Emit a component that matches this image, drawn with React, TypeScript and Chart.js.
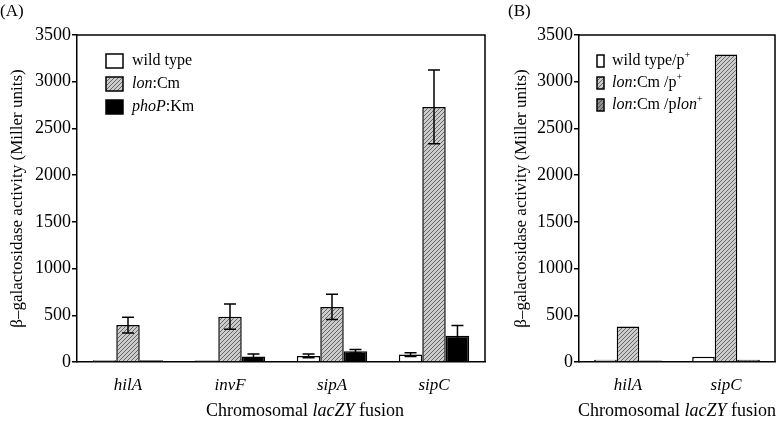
import React, { useEffect, useRef } from "react";
import { Chart, registerables } from "chart.js";

Chart.register(...registerables);

const FONT = "'Liberation Serif', 'Times New Roman', serif";

// Panel A data
const categoriesA = ["hilA", "invF", "sipA", "sipC"];
const wildTypeA = [20, 15, 65, 80];
const wildTypeErrA = [0, 0, 20, 20];
const lonCmA = [395, 485, 590, 2730];
const lonCmErrA = [85, 135, 135, 395];
const phoPA = [20, 60, 115, 280];
const phoPErrA = [0, 25, 20, 110];

// Panel B data
const categoriesB = ["hilA", "sipC"];
const wildTypeB = [25, 55];
const lonCmB = [380, 3290];
const lonCmPlonB = [15, 25];

const yTicks = [0, 500, 1000, 1500, 2000, 2500, 3000, 3500];

type Seg = { t: string; i?: boolean; s?: boolean };

const legendA: Seg[][] = [
  [{ t: "wild type" }],
  [{ t: "lon", i: true }, { t: ":Cm" }],
  [{ t: "phoP", i: true }, { t: ":Km" }],
];
const legendB: Seg[][] = [
  [{ t: "wild type/p" }, { t: "+", s: true }],
  [{ t: "lon", i: true }, { t: ":Cm /p" }, { t: "+", s: true }],
  [{ t: "lon", i: true }, { t: ":Cm /p" }, { t: "lon", i: true }, { t: "+", s: true }],
];
const xTitle: Seg[] = [{ t: "Chromosomal " }, { t: "lacZY", i: true }, { t: " fusion" }];
const yTitle = "β–galactosidase activity (Miller units)";

function makePattern(bg: string, fg: string): CanvasPattern | string {
  const c = document.createElement("canvas");
  c.width = 4;
  c.height = 4;
  const g = c.getContext("2d");
  if (!g) return bg;
  g.fillStyle = bg;
  g.fillRect(0, 0, 4, 4);
  g.strokeStyle = fg;
  g.lineWidth = 1;
  g.beginPath();
  g.moveTo(0, 4);
  g.lineTo(4, 0);
  g.moveTo(-1, 1);
  g.lineTo(1, -1);
  g.moveTo(3, 5);
  g.lineTo(5, 3);
  g.stroke();
  return g.createPattern(c, "repeat") || bg;
}

function segFont(seg: Seg, size: number) {
  const sz = seg.s ? Math.round(size * 0.65) : size;
  return `${seg.i ? "italic " : ""}${sz}px ${FONT}`;
}

function drawRich(ctx: CanvasRenderingContext2D, segs: Seg[], x: number, y: number, size: number, align: "left" | "center") {
  let w = 0;
  for (const s of segs) {
    ctx.font = segFont(s, size);
    w += ctx.measureText(s.t).width;
  }
  let cx = align === "center" ? x - w / 2 : x;
  ctx.textBaseline = "middle";
  ctx.textAlign = "left";
  ctx.fillStyle = "#000";
  for (const s of segs) {
    ctx.font = segFont(s, size);
    ctx.fillText(s.t, cx, s.s ? y - size * 0.35 : y);
    cx += ctx.measureText(s.t).width;
  }
}

type Extra = {
  errors: (number[] | null)[];
  legend: Seg[][];
  legendBox: { x: number; y0: number; dy: number; w: number; h: number; tx: number; size: number };
  titleX: number;
  xTitleCenter: number;
};

const decorPlugin = {
  id: "decor",
  afterDraw(chart: any) {
    const ex: Extra = chart.options.plugins.decor;
    const ctx: CanvasRenderingContext2D = chart.ctx;
    const a = chart.chartArea;
    const yScale = chart.scales.y;
    ctx.save();
    // error bars
    ctx.strokeStyle = "#000";
    ctx.lineWidth = 1.5;
    ex.errors.forEach((errs, di) => {
      if (!errs) return;
      const meta = chart.getDatasetMeta(di);
      const vals = chart.data.datasets[di].data as number[];
      meta.data.forEach((el: any, j: number) => {
        const e = errs[j];
        if (!e) return;
        const x = el.x;
        const top = yScale.getPixelForValue(vals[j] + e);
        const bot = yScale.getPixelForValue(vals[j] - e);
        ctx.beginPath();
        ctx.moveTo(x, top);
        ctx.lineTo(x, bot);
        ctx.moveTo(x - 6, top);
        ctx.lineTo(x + 6, top);
        ctx.moveTo(x - 6, bot);
        ctx.lineTo(x + 6, bot);
        ctx.stroke();
      });
    });
    // frame top & right
    ctx.lineWidth = 1.5;
    ctx.beginPath();
    ctx.moveTo(a.left, a.top);
    ctx.lineTo(a.right, a.top);
    ctx.lineTo(a.right, a.bottom);
    ctx.stroke();
    // legend
    const lb = ex.legendBox;
    ex.legend.forEach((segs, i) => {
      const ds = chart.data.datasets[i];
      const cy = lb.y0 + i * lb.dy;
      ctx.fillStyle = ds.backgroundColor;
      ctx.fillRect(lb.x, cy - lb.h / 2, lb.w, lb.h);
      ctx.strokeStyle = "#000";
      ctx.lineWidth = 1.5;
      ctx.strokeRect(lb.x, cy - lb.h / 2, lb.w, lb.h);
      drawRich(ctx, segs, lb.tx, cy, lb.size, "left");
    });
    // x title
    drawRich(ctx, xTitle, ex.xTitleCenter, 411, 18, "center");
    // y title
    ctx.translate(ex.titleX, (a.top + a.bottom) / 2);
    ctx.rotate(-Math.PI / 2);
    ctx.font = `17px ${FONT}`;
    ctx.textAlign = "center";
    ctx.textBaseline = "middle";
    ctx.fillStyle = "#000";
    ctx.fillText(yTitle, 0, 0);
    ctx.restore();
  },
};

function buildConfig(labels: string[], datasets: any[], extra: Extra, yWidth: number, padRight: number): any {
  return {
    type: "bar",
    data: { labels, datasets },
    plugins: [decorPlugin],
    options: {
      responsive: false,
      animation: false,
      layout: { padding: { left: 0, right: padRight, top: 35, bottom: 0 } },
      plugins: {
        legend: { display: false },
        tooltip: { enabled: false },
        decor: extra,
      },
      datasets: { bar: { categoryPercentage: 0.69, barPercentage: 1 } },
      scales: {
        x: {
          grid: { display: false },
          border: { display: true, color: "#000", width: 1.5 },
          ticks: { color: "#000", font: { family: FONT, size: 17, style: "italic" }, padding: 5 },
          afterFit: (s: any) => {
            s.height = 62;
          },
        },
        y: {
          min: 0,
          max: 3500,
          afterBuildTicks: (s: any) => {
            s.ticks = yTicks.map((v) => ({ value: v }));
          },
          grid: { display: true, drawOnChartArea: false, drawTicks: true, tickLength: 5, color: "#000", lineWidth: 1.5 },
          border: { display: true, color: "#000", width: 1.5 },
          ticks: { color: "#000", font: { family: FONT, size: 18 }, padding: 1, callback: (v: any) => String(v) },
          afterFit: (s: any) => {
            s.width = yWidth;
          },
        },
      },
    },
  };
}

export default function App() {
  const refA = useRef<HTMLCanvasElement>(null);
  const refB = useRef<HTMLCanvasElement>(null);

  useEffect(() => {
    const hatchLight = makePattern("#cccccc", "#666666");
    const hatchDark = makePattern("#909090", "#555555");
    const bw = 1.5;
    const dsA = [
      { label: "wild type", data: wildTypeA, backgroundColor: "#ffffff", borderColor: "#000", borderWidth: bw },
      { label: "lon:Cm", data: lonCmA, backgroundColor: hatchLight, borderColor: "#000", borderWidth: bw },
      { label: "phoP:Km", data: phoPA, backgroundColor: "#000000", borderColor: "#000", borderWidth: bw },
    ];
    const dsB = [
      { label: "wild type/p+", data: wildTypeB, backgroundColor: "#ffffff", borderColor: "#000", borderWidth: bw },
      { label: "lon:Cm /p+", data: lonCmB, backgroundColor: hatchLight, borderColor: "#000", borderWidth: bw },
      { label: "lon:Cm /plon+", data: lonCmPlonB, backgroundColor: hatchDark, borderColor: "#000", borderWidth: bw },
    ];
    const chA = new Chart(
      refA.current as HTMLCanvasElement,
      buildConfig(
        categoriesA,
        dsA,
        {
          errors: [wildTypeErrA, lonCmErrA, phoPErrA],
          legend: legendA,
          legendBox: { x: 106, y0: 61, dy: 23, w: 17, h: 14, tx: 132, size: 16 },
          titleX: 18,
          xTitleCenter: 305,
        },
        77,
        5
      )
    );
    const chB = new Chart(
      refB.current as HTMLCanvasElement,
      buildConfig(
        categoriesB,
        dsB,
        {
          errors: [null, null, null],
          legend: legendB,
          legendBox: { x: 107, y0: 61, dy: 22, w: 7, h: 12, tx: 122, size: 16 },
          titleX: 32,
          xTitleCenter: 187,
        },
        89,
        5
      )
    );
    return () => {
      chA.destroy();
      chB.destroy();
    };
  }, []);

  const label: React.CSSProperties = { position: "absolute", top: 1, fontFamily: FONT, fontSize: 17, color: "#000" };
  return (
    <div style={{ position: "fixed", left: 0, top: 0, width: 780, height: 424, background: "#fff" }}>
      <canvas ref={refA} width={490} height={424} style={{ position: "absolute", left: 0, top: 0 }} />
      <canvas ref={refB} width={290} height={424} style={{ position: "absolute", left: 490, top: 0 }} />
      <div style={{ ...label, left: 0 }}>(A)</div>
      <div style={{ ...label, left: 508 }}>(B)</div>
    </div>
  );
}
